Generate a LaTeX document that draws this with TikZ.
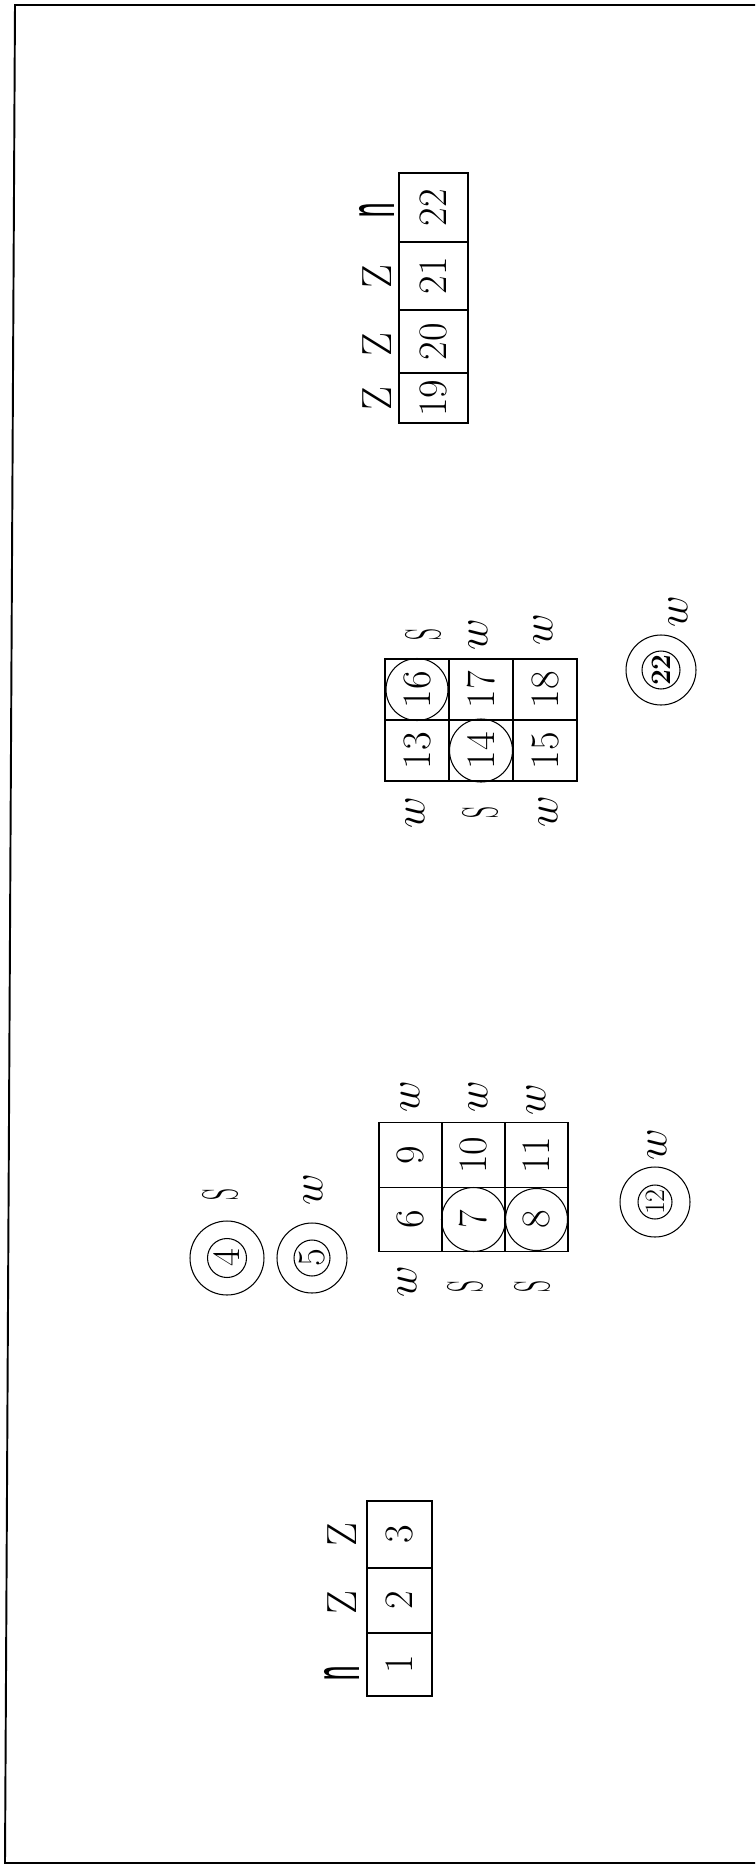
\documentclass[tikz,border=0pt]{standalone}
\usepackage{graphicx}
\usetikzlibrary{positioning}

\newcommand{\rt}[1]{\rotatebox{90}{#1}}
\newcommand{\dirZ}{\rt{Z}}
\newcommand{\dirS}{\rt{\scalebox{0.55}[1.2]{S}}}
\newcommand{\dirW}{\rt{$w$}}
\newcommand{\dirN}{\rt{\scalebox{0.8}[1.9]{\textsf{n}}}}

\tikzset{
	cell/.style={draw, line width=0.8pt, inner sep=0pt, font=\fontsize{23}{23}\selectfont},
	cellA/.style={cell, minimum width=1.26cm, minimum height=1.29cm},
	cellB/.style={cell, minimum width=1.28cm, minimum height=1.22cm},
	lab/.style={inner sep=0pt, font=\fontsize{24}{24}\selectfont},
	ring/.style={draw, circle, line width=0.6pt, inner sep=0pt},
	room/.style={ring, font=\fontsize{22}{22}\selectfont}
}

\begin{document}
\begin{tikzpicture}[x=0.02cm, y=-0.02cm]
	\useasboundingbox (0,0) rectangle (755,1865);
	\draw[line width=1.1pt] (755,5) -- (15,5) -- (5,1863) -- (755,1863);

	% Reihe oben
	\node[cell, minimum width=1.38cm, minimum height=1.38cm] (c22) at (433.5,207.5) {\rt{22}};
	\node[cell, minimum width=1.38cm, minimum height=1.36cm] (c21) at (433.5,276) {\rt{21}};
	\node[cell, minimum width=1.38cm, minimum height=1.26cm] (c20) at (433.5,341.5) {\rt{20}};
	\node[cell, minimum width=1.38cm, minimum height=1.00cm] (c19) at (433.5,398) {\rt{19}};
	\node[lab] (l22) at (377,210) {\dirN};
	\node[lab] (l21) at (377,277) {\dirZ};
	\node[lab] (l20) at (377,345) {\dirZ};
	\node[lab] (l19) at (377,399) {\dirZ};

	% Block 13--18
	\node[cellB] (c16) at (417,689.5) {\rt{16}};
	\node[cellB] (c17) at (481,689.5) {\rt{17}};
	\node[cellB] (c18) at (545,689.5) {\rt{18}};
	\node[cellB] (c13) at (417,750.5) {\rt{13}};
	\node[cellB] (c14) at (481,750.5) {\rt{14}};
	\node[cellB] (c15) at (545,750.5) {\rt{15}};
	\node[ring, minimum size=1.24cm] (o16) at (c16) {};
	\node[ring, minimum size=1.26cm] (o14) at (c14) {};
	\node[lab] (l16) at (423,635) {\dirS};
	\node[lab] (l17) at (478,635) {\dirW};
	\node[lab] (l18) at (543,630) {\dirW};
	\node[lab] (l13) at (415,813) {\dirW};
	\node[lab] (l14) at (480,813) {\dirS};
	\node[lab] (l15) at (548,812) {\dirW};
	\node[ring, minimum size=1.40cm] (o22) at (661,670) {};
	\node[room, minimum size=0.76cm, font=\fontsize{16}{16}\selectfont\bfseries] (r22) at (o22) {\rt{22}};
	\node[lab] (lr22) at (678,612) {\dirW};

	% Block 6--11
	\node[cellA] (c9) at (410.5,1155) {\rt{9}};
	\node[cellA] (c10) at (473.5,1155) {\rt{10}};
	\node[cellA] (c11) at (536.5,1155) {\rt{11}};
	\node[cellA] (c6) at (410.5,1219.5) {\rt{6}};
	\node[cellA] (c7) at (473.5,1219.5) {\rt{7}};
	\node[cellA] (c8) at (536.5,1219.5) {\rt{8}};
	\node[ring, minimum size=1.28cm] (o7) at (c7) {};
	\node[ring, minimum size=1.24cm] (o8) at (c8) {};
	\node[lab] (l9) at (410,1097) {\dirW};
	\node[lab] (l10) at (478,1097) {\dirW};
	\node[lab] (l11) at (536,1100) {\dirW};
	\node[lab] (l6) at (407,1282) {\dirW};
	\node[lab] (l7) at (465,1287) {\dirS};
	\node[lab] (l8) at (532,1287) {\dirS};

	% Einzelne
	\node[ring, minimum size=1.40cm] (o12) at (655,1202) {};
	\node[room, minimum size=0.68cm, font=\fontsize{16}{16}\selectfont] (r12) at (o12) {\rt{12}};
	\node[lab] (lr12) at (657,1145) {\dirW};
	\node[ring, minimum size=1.48cm] (o4) at (227,1258) {};
	\node[room, minimum size=0.78cm] (r4) at (o4) {\rt{4}};
	\node[lab] (lr4) at (220,1195) {\dirS};
	\node[ring, minimum size=1.40cm] (o5) at (312,1258) {};
	\node[room, minimum size=0.72cm] (r5) at (o5) {\rt{5}};
	\node[lab] (lr5) at (313,1190) {\dirW};

	% Reihe unten
	\node[cell, minimum width=1.30cm, minimum height=1.34cm] (c3) at (399.5,1534.5) {\rt{3}};
	\node[cell, minimum width=1.30cm, minimum height=1.30cm] (c2) at (399.5,1600.5) {\rt{2}};
	\node[cell, minimum width=1.30cm, minimum height=1.26cm] (c1) at (399.5,1664.5) {\rt{1}};
	\node[lab] (l3) at (342,1535) {\dirZ};
	\node[lab] (l2) at (342,1603) {\dirZ};
	\node[lab] (l1) at (342,1673) {\dirN};
\end{tikzpicture}
\end{document}
